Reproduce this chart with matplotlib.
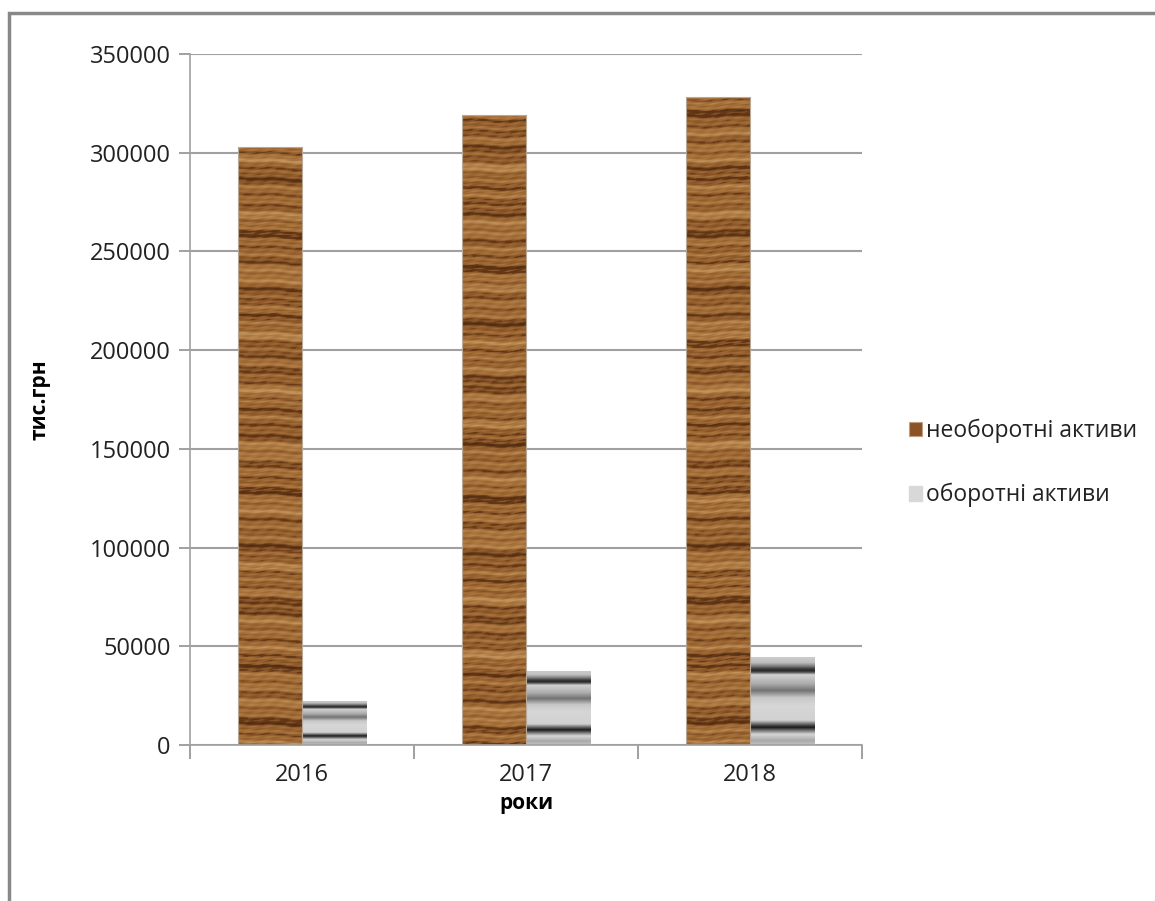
import numpy as np
import matplotlib
matplotlib.use("Agg")
import matplotlib.pyplot as plt
from matplotlib.patches import Patch, Rectangle
from matplotlib.colors import LinearSegmentedColormap

years = ["2016", "2017", "2018"]
non_current = [303000, 319000, 328000]
current = [22500, 37500, 44500]
series_names = ["необоротні активи", "оборотні активи"]
y_ticks = [0, 50000, 100000, 150000, 200000, 250000, 300000, 350000]

plt.rcParams['font.family'] = ['Open Sans', 'DejaVu Sans']
plt.rcParams['hatch.color'] = '#707070'

fig = plt.figure(figsize=(11.55, 9.01), dpi=100)
ax = fig.add_axes([190/1155, 1-745/901, 672/1155, 691/901])

x = np.arange(len(years))
w = 0.286
b1 = ax.bar(x - w/2, non_current, w, color='none', edgecolor='#b8a898', linewidth=0.8, zorder=3)
b2 = ax.bar(x + w/2, current, w, color='none', edgecolor='none', linewidth=0, zorder=3)

wood = LinearSegmentedColormap.from_list(
    "wood", ["#4e2a10", "#6e3f1b", "#8a5628", "#a06a35", "#b07c45", "#c2935c"])

def wood_texture(nrows, ncols, seed):
    r = np.arange(nrows)[:, None].astype(float)
    c = np.arange(ncols)[None, :].astype(float)
    ph = seed * 1.37
    warp = 1.2 * np.sin(c / 23.0 + ph) + 0.6 * np.sin(c / 7.0 + 2 * ph)
    rr = r + warp
    v = (0.55
         + 0.16 * np.sin(2*np.pi*rr/13.7 + ph)
         + 0.14 * np.sin(2*np.pi*rr/5.3 + 2.1*ph)
         + 0.12 * np.sin(2*np.pi*rr/29.1 + 3.3*ph)
         + 0.10 * np.sin(2*np.pi*rr/61.0 + 0.7*ph)
         + 0.06 * np.sin(2*np.pi*rr/2.7 + c/3.0)
         + 0.05 * np.sin(c/2.3 + rr/1.9))
    v = np.clip(v, 0, 1)
    v = np.where(v < 0.33, v * 0.55, v)
    return wood(v)

for i, p in enumerate(b1.patches):
    x0, y0 = p.get_x(), p.get_y()
    ww, hh = p.get_width(), p.get_height()
    nrows = int(hh / 500)
    tex = wood_texture(nrows, 64, i + 1)
    im = ax.imshow(tex, extent=[x0, x0+ww, y0, y0+hh], aspect='auto',
                   interpolation='bilinear', zorder=2.5, origin='upper')
    im.set_clip_path(p)

fpts = [0.0, 0.06, 0.10, 0.13, 0.15, 0.17, 0.20, 0.30, 0.38, 0.46, 0.55, 0.72, 0.77, 0.80, 0.83, 0.88, 0.95, 1.0]
gval = [0.80, 0.75, 0.50, 0.25, 0.15, 0.30, 0.82, 0.68, 0.45, 0.78, 0.84, 0.82, 0.35, 0.10, 0.40, 0.84, 0.66, 0.76]
for i, p in enumerate(b2.patches):
    x0, y0 = p.get_x(), p.get_y()
    ww, hh = p.get_width(), p.get_height()
    f = np.linspace(0, 1, 200)
    g = np.interp(f, fpts, gval)
    tex = np.repeat(g[:, None], 10, axis=1)
    im = ax.imshow(tex, extent=[x0, x0+ww, y0, y0+hh], aspect='auto', cmap='gray',
                   vmin=0, vmax=1, interpolation='bilinear', zorder=2.5, origin='upper')
    im.set_clip_path(p)

ax.set_xlim(-0.5, 2.5)
ax.set_ylim(0, 350000)
ax.set_yticks(y_ticks)
ax.set_yticklabels([str(v) for v in y_ticks], fontsize=17, color='#222222')
ax.set_xticks([-0.5, 0.5, 1.5, 2.5])
ax.set_xticklabels([])
ax.set_xticks(x, minor=True)
ax.set_xticklabels(years, minor=True, fontsize=17, color='#222222')
ax.tick_params(axis='x', which='minor', length=0, pad=13)
ax.tick_params(axis='x', which='major', length=10, color='#909090', width=1.2)
ax.tick_params(axis='y', length=8, color='#909090', width=1.2, pad=6)
ax.yaxis.grid(True, color='#a0a0a0', linewidth=1.5, zorder=1)
ax.set_axisbelow(True)
for s in ['top', 'right']:
    ax.spines[s].set_visible(False)
for s in ['left', 'bottom']:
    ax.spines[s].set_color('#a0a0a0')
    ax.spines[s].set_linewidth(1.2)

ax.set_ylabel("тис.грн", fontsize=15, fontweight='bold', va='center')
ax.yaxis.set_label_coords((40-190)/672, 0.5)
ax.set_xlabel("роки", fontsize=15, fontweight='bold', va='center')
ax.xaxis.set_label_coords(0.5, (745-803)/691)

handles = [Patch(facecolor='#8a5426', edgecolor='#c0a080', linewidth=0.8),
           Patch(facecolor='#d8d8d8', edgecolor='#d8d8d8', hatch='-----')]
leg = fig.legend(handles, series_names, loc='center left', bbox_to_anchor=(888/1155, 1-463/901),
                 frameon=False, fontsize=16.5, handlelength=0.6, handleheight=0.6,
                 handletextpad=0.15, labelspacing=1.75)
for t in leg.get_texts():
    t.set_color('#222222')

frame = Rectangle((9/1155, -0.05), 1.2, 1 - 13/901 + 0.05, transform=fig.transFigure,
                  fill=False, edgecolor='#888888', linewidth=2.5, clip_on=False)
fig.add_artist(frame)

fig.savefig("out.png", dpi=100)
